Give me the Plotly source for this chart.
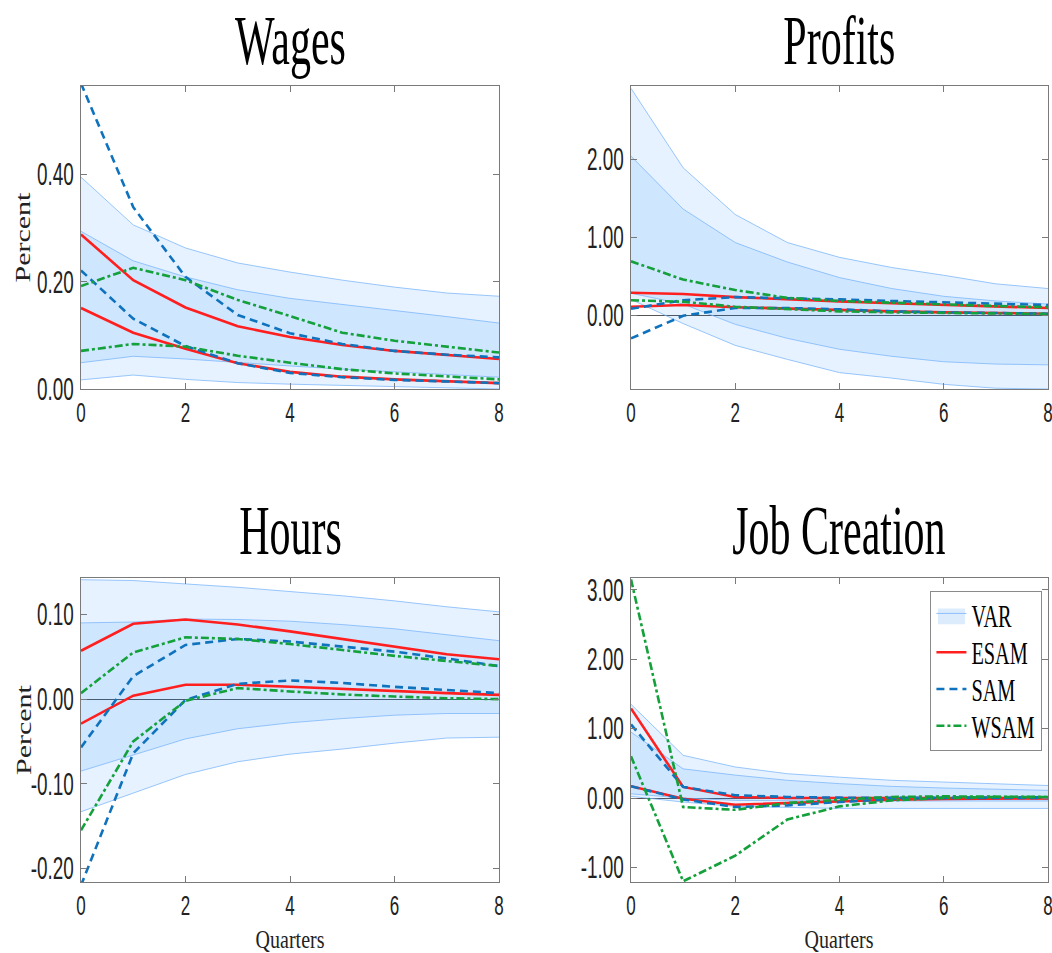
import plotly.graph_objects as go

quarters = [0, 1, 2, 3, 4, 5, 6, 7, 8]

# ---------------- Wages ----------------
wages_var_outer_hi = [0.395, 0.306, 0.263, 0.235, 0.218, 0.203, 0.190, 0.179, 0.173]
wages_var_inner_hi = [0.294, 0.239, 0.209, 0.185, 0.169, 0.158, 0.147, 0.135, 0.123]
wages_var_inner_lo = [0.049, 0.061, 0.056, 0.049, 0.043, 0.037, 0.032, 0.027, 0.022]
wages_var_outer_lo = [0.017, 0.026, 0.018, 0.012, 0.009, 0.007, 0.004, 0.002, 0.000]
wages_esam_a = [0.288, 0.203, 0.152, 0.117, 0.097, 0.082, 0.071, 0.063, 0.056]
wages_esam_b = [0.151, 0.105, 0.075, 0.048, 0.032, 0.023, 0.018, 0.014, 0.011]
wages_sam_a = [0.570, 0.339, 0.209, 0.138, 0.104, 0.084, 0.071, 0.064, 0.059]
wages_sam_b = [0.221, 0.131, 0.080, 0.048, 0.030, 0.022, 0.017, 0.014, 0.011]
wages_wsam_a = [0.192, 0.226, 0.203, 0.166, 0.136, 0.105, 0.090, 0.079, 0.068]
wages_wsam_b = [0.071, 0.084, 0.079, 0.062, 0.049, 0.037, 0.029, 0.023, 0.018]

# ---------------- Profits ----------------
profits_var_outer_hi = [2.91, 1.89, 1.29, 0.93, 0.74, 0.61, 0.51, 0.40, 0.34]
profits_var_inner_hi = [2.04, 1.36, 0.93, 0.68, 0.48, 0.34, 0.24, 0.18, 0.14]
profits_var_inner_lo = [0.28, 0.14, -0.12, -0.30, -0.44, -0.53, -0.60, -0.63, -0.64]
profits_var_outer_lo = [0.20, -0.11, -0.39, -0.57, -0.74, -0.81, -0.89, -0.94, -0.95]
profits_esam_a = [0.285, 0.27, 0.23, 0.20, 0.175, 0.15, 0.13, 0.11, 0.09]
profits_esam_b = [0.106, 0.128, 0.10, 0.08, 0.064, 0.047, 0.034, 0.026, 0.017]
profits_sam_a = [0.08, 0.19, 0.23, 0.217, 0.20, 0.18, 0.16, 0.145, 0.128]
profits_sam_b = [-0.30, -0.01, 0.09, 0.09, 0.072, 0.047, 0.034, 0.026, 0.017]
profits_wsam_a = [0.69, 0.455, 0.32, 0.22, 0.18, 0.157, 0.136, 0.115, 0.10]
profits_wsam_b = [0.19, 0.17, 0.106, 0.072, 0.047, 0.034, 0.026, 0.017, 0.013]

# ---------------- Hours ----------------
hours_var_outer_hi = [0.141, 0.140, 0.136, 0.132, 0.127, 0.122, 0.116, 0.109, 0.103]
hours_var_inner_hi = [0.090, 0.091, 0.0945, 0.094, 0.092, 0.088, 0.083, 0.076, 0.069]
hours_var_inner_lo = [-0.085, -0.066, -0.047, -0.035, -0.028, -0.023, -0.019, -0.017, -0.017]
hours_var_outer_lo = [-0.133, -0.111, -0.089, -0.074, -0.065, -0.059, -0.052, -0.046, -0.045]
hours_esam_a = [0.057, 0.089, 0.094, 0.088, 0.080, 0.071, 0.062, 0.053, 0.047]
hours_esam_b = [-0.029, 0.004, 0.017, 0.017, 0.0145, 0.012, 0.009, 0.007, 0.005]
hours_sam_a = [-0.057, 0.027, 0.064, 0.071, 0.068, 0.062, 0.056, 0.048, 0.039]
hours_sam_b = [-0.220, -0.064, -0.001, 0.018, 0.022, 0.019, 0.0145, 0.011, 0.007]
hours_wsam_a = [0.007, 0.055, 0.073, 0.071, 0.065, 0.058, 0.051, 0.045, 0.039]
hours_wsam_b = [-0.155, -0.050, -0.002, 0.013, 0.009, 0.0055, 0.003, 0.001, 0.000]

# ---------------- Job Creation ----------------
job_var_outer_hi = [1.35, 0.615, 0.447, 0.35, 0.30, 0.255, 0.23, 0.207, 0.18]
job_var_inner_hi = [0.95, 0.42, 0.33, 0.255, 0.207, 0.168, 0.144, 0.125, 0.11]
job_var_inner_lo = [0.06, 0.0, -0.034, -0.043, -0.043, -0.043, -0.043, -0.043, -0.043]
job_var_outer_lo = [0.024, -0.058, -0.12, -0.14, -0.15, -0.15, -0.15, -0.15, -0.15]
job_esam_a = [1.29, 0.16, 0.015, 0.0, 0.0, 0.0, 0.0, 0.0, 0.0]
job_esam_b = [0.17, -0.01, -0.096, -0.072, -0.043, -0.024, -0.014, -0.01, -0.005]
job_sam_a = [1.06, 0.16, 0.04, 0.015, 0.005, 0.002, 0.0, 0.0, 0.0]
job_sam_b = [0.17, -0.02, -0.13, -0.106, -0.058, -0.014, 0.005, 0.01, 0.01]
job_wsam_a = [3.15, -0.13, -0.17, -0.072, -0.024, 0.015, 0.024, 0.024, 0.015]
job_wsam_b = [0.60, -1.20, -0.83, -0.31, -0.12, -0.034, 0.0, 0.015, 0.015]

panel_titles = ["Wages", "Profits", "Hours", "Job Creation"]
x_tickvals = [0, 2, 4, 6, 8]
x_ticktext = ["0", "2", "4", "6", "8"]
wages_tickvals = [0.0, 0.2, 0.4]
wages_ticktext = ["0.00", "0.20", "0.40"]
profits_tickvals = [0.0, 1.0, 2.0]
profits_ticktext = ["0.00", "1.00", "2.00"]
hours_tickvals = [-0.2, -0.1, 0.0, 0.1]
hours_ticktext = ["-0.20", "-0.10", "0.00", "0.10"]
job_tickvals = [-1, 0, 1, 2, 3]
job_ticktext = ["-1.00", "0.00", "1.00", "2.00", "3.00"]
legend_names = ["VAR", "ESAM", "SAM", "WSAM"]

# ---------------- styles ----------------
BAND_FILL = "rgba(5,125,255,0.10)"
BAND_EDGE = "rgba(120,180,250,0.75)"
RED = "#FF1F1F"
BLUE = "#0F72BD"
GREEN = "#14A03A"
AXIS_COL = "#7a7a7a"
SANS = "Liberation Sans, Arial, sans-serif"
SERIF = "Liberation Serif, Times New Roman, serif"
XTICK_FONT = dict(family=SANS, size=27, color="#222222")
YTICK_FONT = dict(family=SANS, size=31, color="#222222")

panels = [
    dict(name="wages", xa="x", ya="y",
         bands=(wages_var_outer_lo, wages_var_outer_hi, wages_var_inner_lo, wages_var_inner_hi),
         esam=(wages_esam_a, wages_esam_b), sam=(wages_sam_a, wages_sam_b),
         wsam=(wages_wsam_a, wages_wsam_b)),
    dict(name="profits", xa="x2", ya="y2",
         bands=(profits_var_outer_lo, profits_var_outer_hi, profits_var_inner_lo, profits_var_inner_hi),
         esam=(profits_esam_a, profits_esam_b), sam=(profits_sam_a, profits_sam_b),
         wsam=(profits_wsam_a, profits_wsam_b)),
    dict(name="hours", xa="x3", ya="y3",
         bands=(hours_var_outer_lo, hours_var_outer_hi, hours_var_inner_lo, hours_var_inner_hi),
         esam=(hours_esam_a, hours_esam_b), sam=(hours_sam_a, hours_sam_b),
         wsam=(hours_wsam_a, hours_wsam_b)),
    dict(name="job", xa="x4", ya="y4",
         bands=(job_var_outer_lo, job_var_outer_hi, job_var_inner_lo, job_var_inner_hi),
         esam=(job_esam_a, job_esam_b), sam=(job_sam_a, job_sam_b),
         wsam=(job_wsam_a, job_wsam_b)),
]

fig = go.Figure()

for p in panels:
    olo, ohi, ilo, ihi = p["bands"]
    common = dict(x=quarters, xaxis=p["xa"], yaxis=p["ya"], hoverinfo="skip", showlegend=False)
    fig.add_trace(go.Scatter(y=olo, mode="lines", line=dict(color=BAND_EDGE, width=1), **common))
    fig.add_trace(go.Scatter(y=ohi, mode="lines", line=dict(color=BAND_EDGE, width=1),
                             fill="tonexty", fillcolor=BAND_FILL, **common))
    fig.add_trace(go.Scatter(y=ilo, mode="lines", line=dict(color=BAND_EDGE, width=1), **common))
    fig.add_trace(go.Scatter(y=ihi, mode="lines", line=dict(color=BAND_EDGE, width=1),
                             fill="tonexty", fillcolor=BAND_FILL, **common))
    for key, col, dash, lname, rank in [("esam", RED, "solid", "ESAM", 2),
                                          ("sam", BLUE, "8px,5px", "SAM", 3),
                                          ("wsam", GREEN, "8px,3px,3px,3px", "WSAM", 4)]:
        for i, ys in enumerate(p[key]):
            show = (p["name"] == "job" and i == 0)
            fig.add_trace(go.Scatter(x=quarters, y=ys, xaxis=p["xa"], yaxis=p["ya"], mode="lines",
                                     line=dict(color=col, width=2.6, dash=dash),
                                     name=lname, legendgroup=lname, legendrank=rank,
                                     showlegend=show, hoverinfo="skip"))

# legend entry for the VAR band
fig.add_trace(go.Scatter(x=[None], y=[None], xaxis="x4", yaxis="y4", mode="lines",
                         fill="toself", fillcolor="#DCECFD",
                         line=dict(color="rgba(140,190,250,1)", width=1),
                         name=legend_names[0], legendrank=1, showlegend=True))

xdom_l = [81 / 1052, 499 / 1052]
xdom_r = [631 / 1052, 1048 / 1052]
ydom_t = [1 - 389 / 953, 1 - 86 / 953]
ydom_b = [1 - 882 / 953, 1 - 578 / 953]


def xax(dom, anchor):
    return dict(domain=dom, anchor=anchor, range=[0, 8], tickvals=x_tickvals, ticktext=x_ticktext,
                showline=True, linecolor=AXIS_COL, linewidth=1, mirror="allticks",
                ticks="inside", ticklen=6, tickcolor=AXIS_COL, showgrid=False, zeroline=False,
                tickfont=XTICK_FONT, automargin=False, ticklabeloverflow="allow")


def yax(dom, anchor, rng, tv, tt):
    return dict(domain=dom, anchor=anchor, range=rng, tickvals=tv, ticktext=tt,
                showline=True, linecolor=AXIS_COL, linewidth=1, mirror="allticks",
                ticks="inside", ticklen=6, tickcolor=AXIS_COL, showgrid=False,
                zeroline=True, zerolinecolor="#555555", zerolinewidth=1,
                tickfont=YTICK_FONT, automargin=False, ticklabeloverflow="allow")


fig.update_layout(
    width=1052, height=953,
    margin=dict(l=0, r=0, t=0, b=0, autoexpand=False),
    paper_bgcolor="white", plot_bgcolor="white",
    xaxis=xax(xdom_l, "y"), yaxis=yax(ydom_t, "x", [0, 0.565], wages_tickvals, wages_ticktext),
    xaxis2=xax(xdom_r, "y2"), yaxis2=yax(ydom_t, "x2", [-0.95, 2.94], profits_tickvals, profits_ticktext),
    xaxis3=xax(xdom_l, "y3"), yaxis3=yax(ydom_b, "x3", [-0.216, 0.143], hours_tickvals, hours_ticktext),
    xaxis4=xax(xdom_r, "y4"), yaxis4=yax(ydom_b, "x4", [-1.21, 3.17], job_tickvals, job_ticktext),
    showlegend=True,
    legend=dict(x=1042 / 1052, y=1 - 591 / 953, xanchor="right", yanchor="top",
                bgcolor="white", bordercolor="#8a8a8a", borderwidth=1,
                font=dict(family=SERIF, size=26, color="black"),
                itemwidth=30, tracegroupgap=0),
)

# top-row titles hang from the top edge; bottom-row titles centred above the panels
for t, cx in zip(panel_titles[:2], [290, 839]):
    fig.add_annotation(text=t, x=cx / 1052, y=1.0, xref="paper", yref="paper",
                       showarrow=False, xanchor="center", yanchor="top",
                       font=dict(family=SERIF, size=70, color="black"))
for t, cx in zip(panel_titles[2:], [290, 839]):
    fig.add_annotation(text=t, x=cx / 1052, y=1 - 530 / 953, xref="paper", yref="paper",
                       showarrow=False, xanchor="center", yanchor="middle",
                       font=dict(family=SERIF, size=70, color="black"))

for cy in [(86 + 389) / 2, (578 + 882) / 2]:
    fig.add_annotation(text="Percent", x=23 / 1052, y=1 - cy / 953, xref="paper", yref="paper",
                       showarrow=False, textangle=-90, xanchor="center", yanchor="middle",
                       font=dict(family=SERIF, size=30, color="#222222"))

for cx in [290, 839]:
    fig.add_annotation(text="Quarters", x=cx / 1052, y=1 - 939 / 953, xref="paper", yref="paper",
                       showarrow=False, xanchor="center", yanchor="middle",
                       font=dict(family=SERIF, size=25, color="#222222"))

# The reference uses horizontally condensed lettering; squeeze the real text glyphs.
post_js = r"""
(function(){
  var gd = document.getElementById('{plot_id}');
  if (!gd) return;
  function sq(el, sx, sy, mode){
    var b; try { b = el.getBBox(); } catch(e) { return; }
    var t = el.getAttribute('transform') || '';
    var cx = mode === 'start' ? b.x : (mode === 'end' ? b.x + b.width : b.x + b.width/2);
    var cy = b.y + b.height/2;
    var extra = ' translate(' + cx + ',' + cy + ') scale(' + sx + ',' + sy + ') translate(' + (-cx) + ',' + (-cy) + ')';
    el.setAttribute('transform', t + extra);
  }
  gd.querySelectorAll('.yaxislayer-above text').forEach(function(e){ sq(e, 0.61, 1, 'end'); });
  gd.querySelectorAll('.xaxislayer-above text').forEach(function(e){ sq(e, 0.63, 1, 'middle'); });
  gd.querySelectorAll('.annotation-text').forEach(function(e){
    var txt = e.textContent;
    if (txt === 'Percent') sq(e, 1, 0.68, 'middle');
    else if (txt === 'Quarters') sq(e, 0.8, 1, 'middle');
    else sq(e, 0.6, 1, 'middle');
  });
  var leg = gd.querySelector('.legend');
  if (!leg) return;
  leg.querySelectorAll('.legendtext').forEach(function(e){ sq(e, 0.78, 1.22, 'start'); });
  leg.querySelectorAll('.legendfill path').forEach(function(e){ sq(e, 0.9, 2.6, 'middle'); });
  var bg = leg.querySelector('rect.bg');
  if (!bg) return;
  var lr = bg.getBoundingClientRect();
  var maxR = 0;
  leg.querySelectorAll('.legendtext').forEach(function(e){
    var r = e.getBoundingClientRect(); if (r.right > maxR) maxR = r.right;
  });
  var newW = maxR - lr.left + 7;
  var dw = lr.width - newW;
  if (dw <= 0) return;
  bg.setAttribute('width', newW);
  var tr = leg.getAttribute('transform') || '';
  var m = /translate\(\s*([-\d.e]+)[ ,]+([-\d.e]+)\s*\)/.exec(tr);
  if (m) leg.setAttribute('transform', 'translate(' + (parseFloat(m[1]) + dw) + ',' + m[2] + ')');
})();
"""

fig.write_html("out.html", post_script=post_js)
